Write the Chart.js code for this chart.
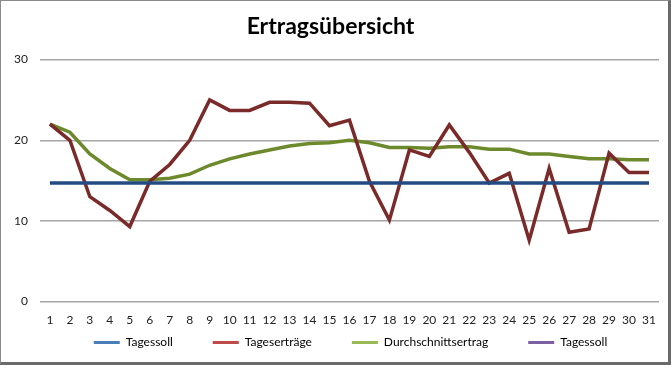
<!DOCTYPE html>
<html lang="de">
<head>
  <meta charset="UTF-8">
  <title>Ertragsübersicht</title>
  <script src="https://cdn.jsdelivr.net/npm/chart.js"></script>
  <style>
    html, body {
      margin: 0;
      padding: 0;
      background: #ffffff;
    }
    .chart-wrap {
      position: relative;
      width: 671px;
      height: 365px;
    }
    .chart-frame {
      position: absolute;
      inset: 0;
      box-sizing: border-box;
      border-style: solid;
      border-color: #8a8a8a #6a6a6a #6a6a6a #8a8a8a;
      border-width: 1px 3px 3px 1px;
      pointer-events: none;
    }
  </style>
</head>
<body>
<div class="chart-wrap">
  <canvas id="ertragChart" width="671" height="365"></canvas>
  <div class="chart-frame"></div>
</div>

<script>
  // Tage des Monats
  const tage = ['1', '2', '3', '4', '5', '6', '7', '8', '9', '10', '11', '12', '13', '14', '15', '16',
                '17', '18', '19', '20', '21', '22', '23', '24', '25', '26', '27', '28', '29', '30', '31'];

  // Tagessoll (konstant)
  const tagessoll = [14.7, 14.7, 14.7, 14.7, 14.7, 14.7, 14.7, 14.7, 14.7, 14.7, 14.7, 14.7, 14.7, 14.7, 14.7, 14.7,
                     14.7, 14.7, 14.7, 14.7, 14.7, 14.7, 14.7, 14.7, 14.7, 14.7, 14.7, 14.7, 14.7, 14.7, 14.7];

  // Tageserträge
  const tageserträge = [22.0, 20.0, 13.0, 11.3, 9.3, 14.9, 17.0, 20.0, 25.0, 23.7, 23.7, 24.7, 24.7, 24.6, 21.8, 22.5,
                        14.9, 10.1, 18.8, 18.0, 21.9, 18.5, 14.7, 15.9, 7.6, 16.5, 8.6, 9.0, 18.4, 16.0, 16.0];

  // Durchschnittsertrag (laufend)
  const durchschnitt = [22.0, 21.0, 18.3, 16.5, 15.1, 15.1, 15.3, 15.8, 16.9, 17.7, 18.3, 18.8, 19.3, 19.6, 19.7, 20.0,
                        19.7, 19.1, 19.1, 19.0, 19.2, 19.2, 18.9, 18.9, 18.3, 18.3, 18.0, 17.7, 17.7, 17.6, 17.6];

  // zweite Tagessoll-Reihe (leer)
  const tagessoll2 = [];

  const yTicks = [0, 10, 20, 30];

  // Linienfarben und Legendenfarben unterscheiden sich im Original
  const legendColors = ['#4a7ebb', '#be4b48', '#98b954', '#7d60a0'];

  // Legende dicht unter die x-Beschriftung ziehen (wie im Excel-Original)
  const legendPlacer = {
    id: 'legendPlacer',
    afterLayout(chart) {
      const lg = chart.legend;
      lg.top = chart.chartArea.bottom - 5;
      lg.bottom = lg.top + 64;
      lg.left += 20;
      lg.right += 20;
    }
  };

  new Chart(document.getElementById('ertragChart'), {
    type: 'line',
    data: {
      labels: tage,
      datasets: [
        { label: 'Tagessoll', data: tagessoll, borderColor: '#234b82', borderWidth: 3.5, pointRadius: 0, tension: 0 },
        { label: 'Tageserträge', data: tageserträge, borderColor: '#7a2a28', borderWidth: 3.5, pointRadius: 0, tension: 0 },
        { label: 'Durchschnittsertrag', data: durchschnitt, borderColor: '#6c8a2c', borderWidth: 3.5, pointRadius: 0, tension: 0 },
        { label: 'Tagessoll', data: tagessoll2, borderColor: '#7d60a0', borderWidth: 3.5, pointRadius: 0, tension: 0 }
      ]
    },
    plugins: [legendPlacer],
    options: {
      responsive: false,
      animation: false,
      layout: {
        padding: { left: 2, right: 12, top: 0, bottom: 7 }
      },
      plugins: {
        title: {
          display: true,
          text: 'Ertragsübersicht',
          color: '#000000',
          font: { family: 'Lato', size: 23, weight: 'bold' },
          padding: { top: 13, bottom: 19 }
        },
        legend: {
          position: 'bottom',
          maxHeight: 20,
          labels: {
            color: '#222222',
            font: { family: 'Lato', size: 12 },
            boxWidth: 26,
            boxHeight: 3,
            padding: 40,
            generateLabels: chart => chart.data.datasets.map((ds, i) => ({
              text: ds.label,
              fillStyle: legendColors[i],
              strokeStyle: legendColors[i],
              lineWidth: 0,
              hidden: false,
              datasetIndex: i
            }))
          }
        },
        tooltip: { enabled: false }
      },
      scales: {
        x: {
          offset: true,
          grid: { display: false, drawTicks: false },
          border: { display: false },
          ticks: {
            color: '#222222',
            font: { family: 'Lato', size: 12 },
            padding: 11,
            maxRotation: 0,
            autoSkip: false
          }
        },
        y: {
          min: 0,
          max: 30,
          afterBuildTicks: axis => { axis.ticks = yTicks.map(v => ({ value: v })); },
          grid: { color: '#a6a6a6', lineWidth: 1.5, drawTicks: false },
          border: { display: false },
          ticks: {
            color: '#222222',
            font: { family: 'Lato', size: 12 },
            padding: 12
          }
        }
      }
    }
  });
</script>
</body>
</html>
